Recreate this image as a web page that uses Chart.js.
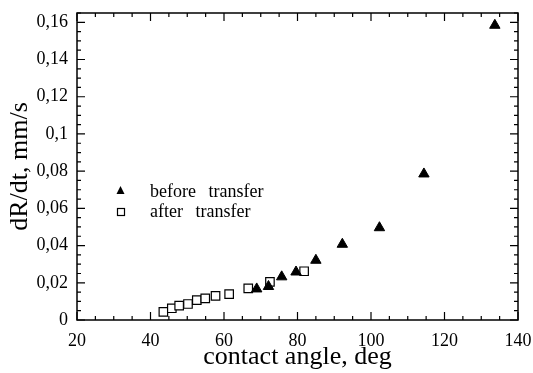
<!DOCTYPE html>
<html>
<head>
<meta charset="utf-8">
<script src="https://cdn.jsdelivr.net/npm/chart.js@4/dist/chart.umd.min.js"></script>
<style>
  html, body { margin: 0; padding: 0; background: #fff; }
  canvas { display: block; }
</style>
</head>
<body>
<canvas id="scatter" width="533" height="373"></canvas>
<script>
// data
const beforeAngle = [68.9, 72.1, 75.7, 79.6, 85.0, 92.2, 102.3, 114.4, 133.7];
const beforeRate  = [0.0167, 0.0180, 0.0232, 0.0258, 0.0321, 0.0407, 0.0496, 0.0785, 0.1584];
const afterAngle  = [43.5, 45.8, 47.8, 50.2, 52.6, 54.9, 57.7, 61.4, 66.6, 72.5, 81.8];
const afterRate   = [0.0044, 0.0063, 0.0077, 0.0086, 0.0107, 0.0116, 0.0130, 0.0139, 0.0170, 0.0205, 0.0262];
const seriesNames = ['before transfer', 'after transfer'];

const serif = "'Liberation Serif', 'DejaVu Serif', serif";

const toPoints = (xs, ys) => xs.map((x, i) => ({ x: x, y: ys[i] }));

// inward ticks on all four sides + frame
const frameTicks = {
  id: 'frameTicks',
  afterDraw(chart) {
    const ctx = chart.ctx;
    const { left, right, top, bottom } = chart.chartArea;
    const xs = chart.scales.x, ys = chart.scales.y;
    ctx.save();
    ctx.strokeStyle = '#000';
    ctx.lineWidth = 1.5;
    ctx.strokeRect(left, top, right - left, bottom - top);
    ctx.lineWidth = 1.2;
    ctx.beginPath();
    for (let v = xs.min; v <= xs.max + 1e-9; v += 5) {
      const px = xs.getPixelForValue(v);
      const len = Math.abs(v % 20) < 1e-6 ? 8 : 4;
      ctx.moveTo(px, bottom); ctx.lineTo(px, bottom - len);
      ctx.moveTo(px, top); ctx.lineTo(px, top + len);
    }
    for (let i = 0; i * 0.005 <= ys.max + 1e-9; i++) {
      const py = ys.getPixelForValue(i * 0.005);
      const len = i % 4 === 0 ? 8 : 4;
      ctx.moveTo(left, py); ctx.lineTo(left + len, py);
      ctx.moveTo(right, py); ctx.lineTo(right - len, py);
    }
    ctx.stroke();
    ctx.restore();
  }
};

// legend inside the plot
const innerLegend = {
  id: 'innerLegend',
  afterDraw(chart) {
    const ctx = chart.ctx;
    ctx.save();
    ctx.font = '18px ' + serif;
    ctx.fillStyle = '#000';
    ctx.textBaseline = 'alphabetic';
    if ('wordSpacing' in ctx) ctx.wordSpacing = '8px';
    // triangle
    ctx.beginPath();
    ctx.moveTo(120.5, 186);
    ctx.lineTo(124.5, 194);
    ctx.lineTo(116.5, 194);
    ctx.closePath();
    ctx.fill();
    ctx.fillText(seriesNames[0], 150, 197);
    // square
    ctx.strokeStyle = '#000';
    ctx.lineWidth = 1.2;
    ctx.strokeRect(117.5, 208.5, 7, 7);
    ctx.fillText(seriesNames[1], 150, 217);
    ctx.restore();
  }
};

const ctx = document.getElementById('scatter').getContext('2d');

new Chart(ctx, {
  type: 'scatter',
  data: {
    datasets: [{
      label: seriesNames[0],
      data: toPoints(beforeAngle, beforeRate),
      pointStyle: 'triangle',
      pointRadius: 6,
      pointHoverRadius: 6,
      backgroundColor: '#000',
      borderColor: '#000',
      borderWidth: 1,
    }, {
      label: seriesNames[1],
      data: toPoints(afterAngle, afterRate),
      pointStyle: 'rect',
      pointRadius: 6,
      pointHoverRadius: 6,
      backgroundColor: '#fff',
      borderColor: '#000',
      borderWidth: 1.2,
    }]
  },
  options: {
    responsive: false,
    animation: false,
    layout: { padding: { top: 13, right: 15, left: 0, bottom: 0 } },
    scales: {
      x: {
        type: 'linear',
        min: 20,
        max: 140,
        afterFit: s => { s.height = 53; s.paddingLeft = 0; s.paddingRight = 0; },
        grid: { display: false, drawTicks: false },
        border: { display: false },
        ticks: {
          stepSize: 20,
          padding: 10,
          color: '#000',
          font: { family: serif, size: 18 },
          maxRotation: 0,
        },
        title: {
          display: true,
          text: 'contact angle, deg',
          color: '#000',
          font: { family: serif, size: 26 },
          padding: { top: 0, bottom: 0 },
        }
      },
      y: {
        type: 'linear',
        min: 0,
        max: 0.165,
        afterFit: s => { s.width = 77; s.paddingTop = 0; s.paddingBottom = 0; },
        grid: { display: false, drawTicks: false },
        border: { display: false },
        ticks: {
          stepSize: 0.02,
          includeBounds: false,
          padding: 9,
          color: '#000',
          font: { family: serif, size: 18 },
          callback: v => String(Number(v.toFixed(2))).replace('.', ','),
        },
        title: {
          display: true,
          text: 'dR/dt, mm/s',
          color: '#000',
          font: { family: serif, size: 26 },
          padding: { top: 5, bottom: 0 },
        }
      }
    },
    plugins: {
      legend: { display: false },
      tooltip: { enabled: false },
    }
  },
  plugins: [frameTicks, innerLegend]
});
</script>
</body>
</html>
